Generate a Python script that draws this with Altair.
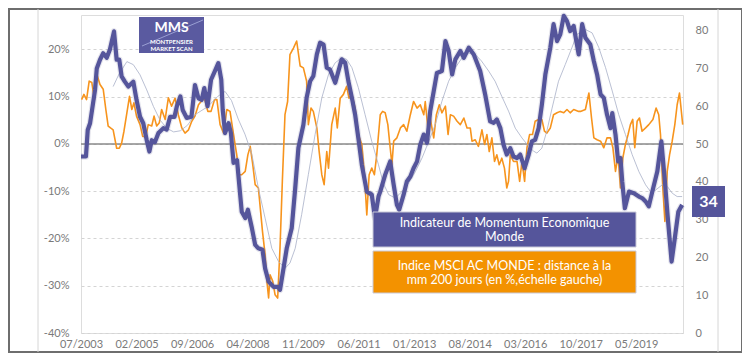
import json
import altair as alt
import pandas as pd

# ---------------- data (month offset from 07/2003, value) ----------------
tick_months = [0, 19, 38, 57, 76, 95, 114, 133, 152, 171, 190]
tick_labels = ["07/2003", "02/2005", "09/2006", "04/2008", "11/2009", "06/2011",
               "01/2013", "08/2014", "03/2016", "10/2017", "05/2019"]

# Indicateur de Momentum Economique Monde (right axis)
mom_m = [0, 1.7, 2.3, 3.1, 4.8, 5.4, 6.5, 7.6, 8.8, 9.9, 11.3, 12.2, 13.1, 13.9, 15, 16.2, 17.9, 19,
         20.2, 21.3, 22.5, 23.4, 24.2, 25.3, 26.5, 28.2, 29.3, 30.5, 32, 32.8, 34, 34.8, 36.2, 37.8,
         39, 40.2, 41.3, 42.2, 43.3, 44.5, 46, 47, 48, 48.5, 49.3, 50.5, 51.3, 52.2, 53.4, 54,
         55, 56.2, 57.1, 58.5, 59.6, 60.7, 62.1, 63, 64.2, 65.9, 67.5, 68.1, 69.3, 70.4, 72.1, 73.3,
         74.4, 76.1, 77.2, 78.4, 79.5, 80.7, 81.8, 83, 84.1, 85.2, 87, 88.1, 89.2, 90.4, 91.5, 92.7,
         93.8, 94.9, 96.1, 97.8, 99.5, 100.6, 101.8, 102.4, 104.1, 105.8, 107, 108.1, 108.9, 110.4,
         111.5, 112.7, 113.8, 115, 116.1, 117.3, 118.4, 119.5, 120.7, 121.8, 123.5, 124.7, 125.8,
         127, 128.1, 129.8, 131, 132.7, 134.4, 136.6, 138.3, 140, 141.2, 142.3, 143.5, 144.6, 145.7,
         146.9, 148, 149.2, 150.3, 151.8, 153.2, 154.3, 155.4, 156.6, 157.7, 158.9, 160.6, 161.7,
         162.9, 164, 165.2, 166.3, 167.4, 168.6, 170.3, 171.5, 172.6, 174.3, 175.5, 176.6, 177.8,
         178.9, 180, 181.2, 181.8, 182.9, 183.8, 184.6, 185.2, 186.1, 187.5, 189.2, 190.9, 192,
         193.2, 194.3, 195.5, 197.2, 198.6, 199.8, 200.9, 202.1, 203.2, 204.4, 205.7]
mom_v = [46.7, 46.7, 53.7, 55.5, 64.3, 70, 72.3, 74, 72.8, 75, 79.8, 72.3, 72.3, 67.9, 66.5, 65.2, 66.5, 61.7,
         57.2, 55.5, 51, 48, 51, 50.5, 52.9, 54.2, 53.8, 57.2, 57.2, 60, 62.6, 59, 56.9, 57.2,
         65.6, 62.1, 61.7, 64.8, 60, 67, 69.6, 71.4, 67, 59, 52.9, 55.5, 52.9, 45, 45.7, 40.5,
         32.1, 30.4, 32.6, 27.7, 23.3, 22.4, 22, 17.1, 13.6, 12.2, 12.2, 11.4, 17.1, 22.4, 27.7, 38.3,
         49, 55.1, 62.2, 66.6, 68, 73.7, 76.8, 76.3, 70.2, 69.7, 66.2, 69.3, 72.4, 71.5, 66.6, 62.2,
         57.8, 51.6, 44.5, 37.4, 36.6, 30.4, 36.1, 37.4, 41.9, 45.4, 39.2, 33.9, 32.6, 36.6,
         40.1, 41.4, 43.6, 45.4, 49.8, 52.5, 50.3, 58.7, 64, 68.8, 69.3, 77.2, 74.6,
         68.4, 72.4, 74.6, 72.8, 75.5, 73.7, 69.3, 63.1, 56, 55.6, 56.5, 54.2, 49.8, 47.2,
         48.9, 46.7, 46.3, 47.2, 43.6, 47.2, 50.7, 51.1, 54.2, 60.4, 68.4, 75.5, 81.7,
         77.2, 79, 83.9, 82.5, 79.9, 81.2, 73.7, 81.7, 78.1, 76.3, 71.9, 68.4, 63.1,
         62.2, 57.8, 54.2, 58.2, 52.5, 45.4, 46.3, 40.1, 33, 37.4, 37, 36.1, 35.7,
         34.8, 33.5, 37.4, 42.7, 50.7, 40.1, 29.5, 18.9, 25.1, 32.1, 33.9]

# smoothed momentum (thin grey line, right axis)
avg_m = [11, 13, 15.7, 17.9, 20.2, 22.5, 24.8, 27, 29.3, 31.7, 34, 36.5, 38.9, 43.4, 46.8, 49.3,
         51.5, 53.8, 56.1, 58.4, 60.7, 63, 65.3, 67.6, 69.8, 71.5, 73.3, 75.5, 77.8, 80.1, 82.4,
         84.7, 87, 89.2, 90.9, 92.7, 94.9, 97.2, 99.5, 101.8, 103.5, 105.3, 107.6, 109.8, 112.1,
         114.4, 116.7, 119, 121.2, 123.5, 125.8, 128.1, 130.4, 132.7, 134.9, 137, 139.5, 141.7,
         144, 146.3, 148.6, 150.9, 153.2, 154.9, 156, 157.7, 159.4, 161.2, 163.4, 165.7, 168,
         169.7, 172.6, 174.9, 177.2, 179.5, 181.8, 184, 186.3, 188.6, 190.9, 193.2, 194.9, 196.6,
         198.9, 200.6, 202.3, 204, 205.7]
avg_v = [65.2, 68.5, 71.8, 71, 68.3, 64.3, 59.9, 56.4, 54.2, 53.2, 53.5, 55, 57.7, 59.9, 62.6, 63.9,
         61.5, 56.6, 52.6, 47.5, 38.3, 30.4, 22.4, 18.9, 17.1, 18.5, 22.4, 31.3, 41.9, 52.5, 62.2,
         68.4, 71.5, 72.8, 72.4, 70.2, 64.9, 57.8, 50.7, 44.5, 39.5, 36.6, 35.7, 37.4, 39.7,
         42.7, 46.3, 50.7, 55.1, 61.3, 66.6, 70.2, 72.8, 74.1, 73.7, 72, 69.3, 66.6,
         62.6, 58.7, 54.2, 51.6, 49.4, 48.1, 47.6, 48.9, 53.4, 59.5, 66.6, 71, 75.5,
         79, 80.3, 79.4, 75.5, 70.2, 64, 57.8, 52.5, 47.2, 42.7, 39.2, 37.4, 37.8,
         39.2, 38.8, 37, 36.1, 36.1]

# Indice MSCI AC Monde : distance a la mm 200 jours (%, left axis)
msci_m = [0.2, 1, 1.9, 2.8, 3.7, 4.6, 5.4, 6.5, 7.6, 8.5, 9.3, 10.1, 11, 12.2, 13.1, 13.9, 14.7, 15.7,
          16.6, 17.4, 18.1, 19, 20.2, 21.1, 22.2, 23, 24.2, 25, 25.9, 26.8, 27.6, 28.8, 29.9, 31,
          32.2, 33.3, 34.5, 35.6, 36.8, 37.9, 39, 40.2, 41.1, 42.2, 43.4, 44.5, 45.7, 46.5, 47.6,
          48.8, 49.9, 51, 52.2, 53.3, 54.1, 55, 56.2, 57.1, 57.9, 58.7, 59.6, 60.7, 62.1, 63, 63.6,
          64.2, 64.7, 65.6, 66.4, 67.3, 68.1, 68.9, 69.8, 70.7, 71.5, 72.7, 73.8, 75, 76.1, 77.2,
          77.8, 78.7, 79.5, 80.7, 81.5, 82.4, 83.2, 84.1, 84.7, 85.8, 87, 87.7, 88.7, 89.8, 90.9,
          91.7, 92.7, 93.8, 94.9, 96.1, 97, 97.8, 98.6, 99.5, 100.4, 101.2, 102.4, 103.2, 104.1,
          105, 105.8, 106.4, 107, 108.1, 109.3, 110.4, 111.5, 112.7, 113.8, 115, 116.1, 117.3,
          117.8, 118.7, 119.5, 120.7, 121.6, 122.6, 123.5, 124.7, 125.6, 126.4, 127.5, 128.7,
          129.8, 131, 132.1, 133.2, 133.8, 134.9, 136, 137.2, 138.1, 138.9, 139.7, 140.6, 141.5,
          142.3, 143.1, 144, 144.9, 145.7, 146.3, 146.9, 148, 149.2, 150.1, 150.9, 151.8, 152.6,
          153.5, 154.5, 155.4, 156.6, 157.7, 158.6, 159.4, 160.6, 161.7, 162.9, 164, 165.2, 166.3,
          167.4, 168.6, 170.3, 170.9, 172.6, 173.8, 174.7, 175.5, 176.6, 177.8, 178.9, 180, 181.2,
          182, 182.9, 183.8, 184.6, 185.4, 186.3, 187.2, 188, 188.8, 189.5, 190.3, 191.1, 192,
          193.2, 194.3, 195.7, 196.8, 197.7, 198.3, 199.1, 199.8, 200.6, 201.4, 202.3, 203.2,
          204, 204.8, 205.9]
msci_v = [9.4, 10.5, 9.4, 13.3, 13, 9.4, 14.8, 12.6, 11.6, 7.3, 3.8, 3.4, 3, -0.9, -0.9, 0.2, 2.7, 6.6,
          10.1, 7.3, 8.7, 5.9, 4.1, 1.6, 1.6, 4.1, 3.8, 5.9, 3.8, 4.5, 7.3, 5.2, 9.8, 8,
          9.7, 6.2, 3.4, 2.3, 3, 4.8, 5.9, 8.3, 9, 9.7, 6.9, 6.9, 9.4, 9.4, 4.1,
          2.3, 7.3, 6.9, 2, -2.3, -6.5, -6.5, -5.8, -2.3, -0.5, -4, -8.6, -9.3, -18.5, -23.4, -29,
          -32.6, -27.7, -29, -31.9, -32.6, -22, -7.9, 6.2, 9, 18.9, 20.3, 21.8, 16.5, 16.1, 13.3,
          4.1, 7.6, 6.9, 3.4, -1.6, -6.5, -8.6, -1.6, -5.1, 4.1, 7.6, 3.4, 9.7, 10.5, 12.2,
          9.7, 10.5, 7.6, 2, -0.1, -6.5, -15, -6.5, -5.1, -6.5, -2.3, 6.2, 6.9, 6.6,
          4.1, -0.8, -4.4, 0.6, 1.3, 3.4, 4.1, 2.7, 6.2, 9, 7.6, 8.3, 6.2,
          9, 3.4, 5.5, 1.3, 6.2, 8.3, 6.6, 8, 2, 6.2, 5.9, 4.8,
          4.1, 5.5, 3.4, 3.4, 0.6, 0.9, -0.5, 3, -0.1, 2, -1.6, 1.3, -3.7,
          -2.3, -4.4, -3, -5.1, -9.3, -7.9, -2.3, -3.7, -3.7, -7.9, -3.7, -7.9, -0.8,
          2, 2, 4.8, 5.2, 5.2, 2.7, 2.3, 3.4, 6.2, 6.6, 6.9, 6.6, 7.3,
          6.6, 7.3, 6.9, 6.9, 7.3, 10.8, 5.5, 1.3, 0.9, 0.6, -0.8, 1.3, 1.3,
          -0.8, -5.8, -2.3, -9.3, -3, -0.1, 2, 4.1, 5.2, -0.8, 4.8, 5.5, 2.7,
          3.4, 4.1, 5.2, 7.6, 6.2, 2, -9.3, -16.4, -5.8, -2.3, 0.6, 4.1,
          8.3, 10.8, 4.1]

left_ticks = [-40, -30, -20, -10, 0, 10, 20]
right_ticks = [0, 10, 20, 30, 40, 50, 60, 70, 80]
last_value = "34"
box1_lines = ["Indicateur de Momentum Economique", "Monde"]
box2_lines = ["Indice MSCI AC MONDE : distance à la", "mm 200 jours (en %,échelle gauche)"]
logo_lines = ["MMS", "MONTPENSIER", "MARKET SCAN"]

# ---------------- styling ----------------
FONT = "Lato"
LBL = "#7a7a7a"
PURPLE = "#55559b"
ORANGE = "#f7941d"
GREY = "#a8b0c8"
W, H = 602, 318

mom = pd.DataFrame({"m": mom_m, "v": mom_v})
avg = pd.DataFrame({"m": avg_m, "v": avg_v})
msci = pd.DataFrame({"m": msci_m, "v": msci_v})
one = pd.DataFrame({"a": [0]})

x_axis = alt.Axis(values=tick_months,
                  labelExpr=json.dumps(tick_labels) + "[round(datum.value / 19)]",
                  domain=False, ticks=False, grid=False, labelFlush=False, labelOverlap=False,
                  labelFont=FONT, labelFontSize=11, labelColor=LBL, labelPadding=5, title=None)
x_scale = alt.Scale(domain=[0, 206], nice=False, zero=False)
X = alt.X("m:Q", scale=x_scale, axis=x_axis)

left_scale = alt.Scale(domain=[-40, 27.3], nice=False, zero=False)
left_axis = alt.Axis(values=left_ticks, labelExpr="datum.value + '%'", domain=False, ticks=False,
                     grid=True, gridDash=[3, 3], gridColor="#d4d4d4", gridWidth=1,
                     labelFont=FONT, labelFontSize=11, labelColor=LBL, labelPadding=12, title=None)
right_scale = alt.Scale(domain=[0, 84.13], nice=False, zero=False)
right_axis = alt.Axis(values=right_ticks, orient="right", domain=False, ticks=False, grid=False,
                      labelFont=FONT, labelFontSize=11, labelColor=LBL, labelPadding=12, title=None)

orange_line = alt.Chart(msci).mark_line(color=ORANGE, strokeWidth=1.6, strokeJoin="round").encode(
    x=X, y=alt.Y("v:Q", scale=left_scale, axis=left_axis))
zero_rule = alt.Chart(pd.DataFrame({"v": [0]})).mark_rule(color="#8a8a8a", strokeWidth=1.5).encode(
    y=alt.Y("v:Q", scale=left_scale, axis=left_axis))
left_group = alt.layer(zero_rule, orange_line)

grey_line = alt.Chart(avg).mark_line(color=GREY, strokeWidth=0.8).encode(
    x=X, y=alt.Y("v:Q", scale=right_scale, axis=right_axis))
shadow = alt.Chart(mom).mark_line(color="#6f6f99", strokeWidth=6.5, opacity=0.18,
                                  strokeJoin="round").encode(
    x=X, y=alt.Y("v:Q", scale=right_scale, axis=right_axis))
mom_line = alt.Chart(mom).mark_line(color=PURPLE, strokeWidth=4.2, strokeJoin="round").encode(
    x=X, y=alt.Y("v:Q", scale=right_scale, axis=right_axis))
right_group = alt.layer(grey_line, shadow, mom_line)


def rect(x1, x2, y1, y2, fill, stroke=None, sw=1):
    kw = dict(fill=fill)
    if stroke:
        kw.update(stroke=stroke, strokeWidth=sw)
    return alt.Chart(one).mark_rect(**kw).encode(
        x=alt.value(x1), x2=alt.value(x2), y=alt.value(y1), y2=alt.value(y2))


def text(x, y, s, size, color="white", weight="normal"):
    return alt.Chart(one).mark_text(font=FONT, fontSize=size, color=color, fontWeight=weight,
                                    align="center", baseline="middle").encode(
        x=alt.value(x), y=alt.value(y), text=alt.value(s))


frame = alt.Chart(one).mark_rect(fill="transparent", stroke="#6e6e6e", strokeWidth=2).encode(
    x=alt.value(-72), x2=alt.value(661), y=alt.value(-6), y2=alt.value(337))
inner_l = alt.Chart(one).mark_rule(color="#d6d6d6", strokeWidth=1).encode(
    x=alt.value(-43), y=alt.value(-6), y2=alt.value(337))
inner_r = alt.Chart(one).mark_rule(color="#d6d6d6", strokeWidth=1).encode(
    x=alt.value(637), y=alt.value(-6), y2=alt.value(337))

box1 = rect(292, 555, 197, 232, PURPLE, "#c9c9d8")
box1_t1 = text(423.5, 207.5, box1_lines[0], 12.5)
box1_t2 = text(423.5, 221.5, box1_lines[1], 12.5)
box2 = rect(292, 555, 236, 278, "#f39200", "#c9c9d8")
box2_t1 = text(423.5, 250.5, box2_lines[0], 12.5)
box2_t2 = text(423.5, 264.5, box2_lines[1], 12.5)
val_box = rect(611, 644, 171, 202, PURPLE)
val_t = text(627.5, 187, last_value, 16, weight="bold")

logo = rect(58, 123, 2, 38, "#5a5aa0")
logo_arrow = alt.Chart(one).mark_rule(color="#aab0e0", strokeWidth=0.8).encode(
    x=alt.value(61), x2=alt.value(122), y=alt.value(31), y2=alt.value(5))
logo_t1 = text(90.5, 13, logo_lines[0], 14, weight="bold")
logo_t2 = text(90.5, 26.5, logo_lines[1], 6, weight="bold")
logo_t3 = text(90.5, 33.5, logo_lines[2], 6, weight="bold")

chart = alt.layer(
    frame, inner_l, inner_r,
    left_group, right_group,
    box1, box1_t1, box1_t2, box2, box2_t1, box2_t2, val_box, val_t,
    logo, logo_arrow, logo_t1, logo_t2, logo_t3,
).resolve_scale(y="independent").properties(
    width=W, height=H,
    autosize=alt.AutoSizeParams(type="none"),
    padding={"left": 73, "top": 7, "right": 59, "bottom": 21},
).configure_view(stroke=None).configure(background="white")

chart.save("out.html", embed_options={"renderer": "svg", "actions": False})
